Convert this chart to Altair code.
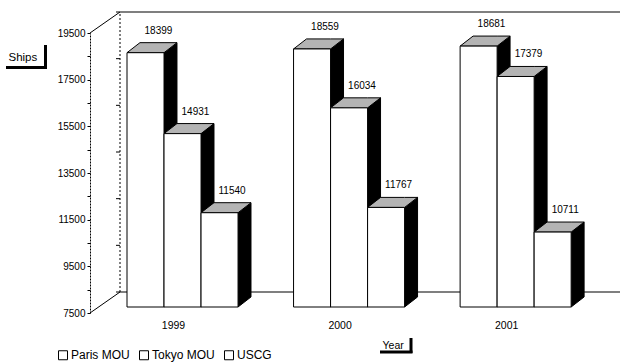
import altair as alt
import pandas as pd

# Ship inspections per regime and year
years = ["1999", "2000", "2001"]
series = ["Paris MOU", "Tokyo MOU", "USCG"]
paris_mou = [18399, 18559, 18681]
tokyo_mou = [14931, 16034, 17379]
uscg = [11540, 11767, 10711]
y_ticks = list(range(7500, 19501, 1000))

BASE, TOP = 7500, 19500
FIRST, PITCH, BAR_W = 1.0, 4.5, 1.0      # bar layout on the x scale
DEPTH_X, DEPTH_Y = 0.35, 430              # extrusion of each bar (x units, value units)
X_MAX = 14.32
SET_BACK = -6                             # bars sit a little behind the front plane
BOX_DX, BOX_DY = 30, -21                  # depth of the back wall in pixels
FONT = "Liberation Sans"

rows = []
for g, year in enumerate(years):
    for i, (name, vals) in enumerate(zip(series, [paris_mou, tokyo_mou, uscg])):
        xl = FIRST + g * PITCH + i * BAR_W
        rows.append(dict(bar=f"{year}-{name}", year=year, series=name, value=vals[g],
                         xl=xl, xr=xl + BAR_W, xc=xl + BAR_W / 2, base=BASE))
bars = pd.DataFrame(rows)

side_rows, top_rows = [], []
for r in rows:
    v, b = r["value"], r["base"]
    side_rows += [dict(bar=r["bar"], x=r["xr"], lo=b, hi=v),
                  dict(bar=r["bar"], x=r["xr"] + DEPTH_X, lo=b + DEPTH_Y, hi=v + DEPTH_Y)]
    top_rows += [dict(bar=r["bar"], x=r["xl"], lo=v, hi=v),
                 dict(bar=r["bar"], x=r["xl"] + DEPTH_X, lo=v, hi=v + DEPTH_Y),
                 dict(bar=r["bar"], x=r["xr"], lo=v, hi=v + DEPTH_Y),
                 dict(bar=r["bar"], x=r["xr"] + DEPTH_X, lo=v + DEPTH_Y, hi=v + DEPTH_Y)]
sides = pd.DataFrame(side_rows)
tops = pd.DataFrame(top_rows)

year_df = pd.DataFrame({"year": years,
                        "xc": [FIRST + g * PITCH + 1.5 * BAR_W for g in range(len(years))],
                        "base": BASE})

xs = alt.Scale(domain=[0, X_MAX], nice=False, zero=False)
ys = alt.Scale(domain=[BASE, TOP], nice=False, zero=False)

x_axis = alt.Axis(labels=False, ticks=False, domain=False, grid=False, title="Year",
                  titleX=292, titleY=35, titleAlign="left", titleBaseline="alphabetic",
                  titleFont=FONT, titleFontSize=10.5, titleFontWeight="normal", titleColor="black")
y_axis = alt.Axis(values=y_ticks, format="d", grid=False,
                  labelExpr="(datum.value - 7500) % 2000 == 0 ? datum.label : ''",
                  labelFont=FONT, labelFontSize=10, labelColor="black", labelPadding=2,
                  tickSize=3, tickColor="black", domainColor="black", domainDash=[2, 1],
                  title="Ships", titleAngle=0, titleX=-82, titleY=27, titleAlign="left",
                  titleBaseline="alphabetic", titleFont=FONT, titleFontSize=11.5,
                  titleFontWeight="normal", titleColor="black")


def X(field):
    return alt.X(field, type="quantitative", scale=xs, axis=x_axis)


def Y(field):
    return alt.Y(field, type="quantitative", scale=ys, axis=y_axis, stack=None)


one = pd.DataFrame({"x": [0.0], "x_end": [X_MAX], "lo": [BASE], "hi": [TOP]})
ends = pd.DataFrame({"x": [0.0, 0.0], "x_end": [X_MAX, X_MAX], "y": [TOP, BASE]})
wall_ticks = pd.DataFrame({"x": 0.0, "y": list(range(BASE, TOP + 1, 2000))})

# 3-D box: diagonals, back wall, top edge and floor line
diagonals = alt.Chart(ends).mark_rule(color="black", strokeWidth=1,
                                      x2Offset=BOX_DX, y2Offset=BOX_DY).encode(
    x=X("x"), x2="x", y=Y("y"), y2="y")
back_wall = alt.Chart(one).mark_rule(color="black", strokeWidth=1, strokeDash=[2, 2],
                                     xOffset=BOX_DX, yOffset=BOX_DY, y2Offset=BOX_DY).encode(
    x=X("x"), y=Y("lo"), y2="hi")
back_lines = alt.Chart(ends).mark_rule(color="black", strokeWidth=1.2,
                                       xOffset=BOX_DX, yOffset=BOX_DY).encode(
    x=X("x"), x2="x_end", y=Y("y"))
back_ticks = alt.Chart(wall_ticks).mark_rule(color="black", strokeWidth=1,
                                             xOffset=BOX_DX - 4, x2Offset=BOX_DX,
                                             yOffset=BOX_DY, y2Offset=BOX_DY).encode(
    x=X("x"), x2="x", y=Y("y"), y2="y")

# Extruded bars: black sides, grey tops, white fronts
side_faces = alt.Chart(sides).mark_area(color="black", stroke="black", strokeWidth=1,
                                        interpolate="linear",
                                        yOffset=SET_BACK, y2Offset=SET_BACK).encode(
    x=X("x"), y=Y("hi"), y2="lo", detail="bar:N")
top_faces = alt.Chart(tops).mark_area(color="#b4b4b4", stroke="black", strokeWidth=1,
                                      interpolate="linear",
                                      yOffset=SET_BACK, y2Offset=SET_BACK).encode(
    x=X("x"), y=Y("hi"), y2="lo", detail="bar:N")
fronts = alt.Chart(bars).mark_rect(stroke="black", strokeWidth=1,
                                   yOffset=SET_BACK, y2Offset=SET_BACK).encode(
    x=X("xl"), x2="xr", y=Y("value"), y2="base",
    fill=alt.Fill("series:N", scale=alt.Scale(domain=series, range=["white"] * 3),
                  sort=series,
                  legend=alt.Legend(title=None, orient="none", legendX=-33, legendY=316,
                                    direction="horizontal", symbolType="square",
                                    symbolSize=81, symbolStrokeColor="black",
                                    symbolStrokeWidth=1, labelFont=FONT, labelFontSize=12,
                                    labelColor="black", labelOffset=2, columnPadding=7,
                                    padding=0)))

value_labels = alt.Chart(bars).mark_text(align="left", baseline="alphabetic", dx=-1, dy=-25,
                                         font=FONT, fontSize=10, color="black").encode(
    x=X("xc"), y=Y("value"), text=alt.Text("value:Q", format="d"))
year_labels = alt.Chart(year_df).mark_text(align="center", baseline="alphabetic", dx=-9, dy=16,
                                           font=FONT, fontSize=10.5, color="black").encode(
    x=X("xc"), y=Y("base"), text="year:N")

# Drop-shadow corners behind the axis titles
k = pd.DataFrame({"k": [0]})
shadows = alt.layer(
    alt.Chart(k).mark_rule(color="black", strokeWidth=3).encode(
        x=alt.value(-44.5), y=alt.value(12), y2=alt.value(35)),
    alt.Chart(k).mark_rule(color="black", strokeWidth=3).encode(
        x=alt.value(-84), x2=alt.value(-43), y=alt.value(34.5)),
    alt.Chart(k).mark_rule(color="black", strokeWidth=3).encode(
        x=alt.value(321), y=alt.value(305), y2=alt.value(320)),
    alt.Chart(k).mark_rule(color="black", strokeWidth=3).encode(
        x=alt.value(290), x2=alt.value(322.5), y=alt.value(319)),
)

chart = alt.layer(
    back_wall, back_lines, back_ticks, diagonals,
    side_faces, top_faces, fronts,
    value_labels, year_labels, shadows,
).properties(
    width=530, height=280,
    padding={"left": 90, "top": 33, "right": 0, "bottom": 50},
    autosize=alt.AutoSizeParams(type="none"),
    background="white",
).configure_view(stroke=None)

chart.save("out.html", embed_options={"renderer": "svg", "actions": False})
